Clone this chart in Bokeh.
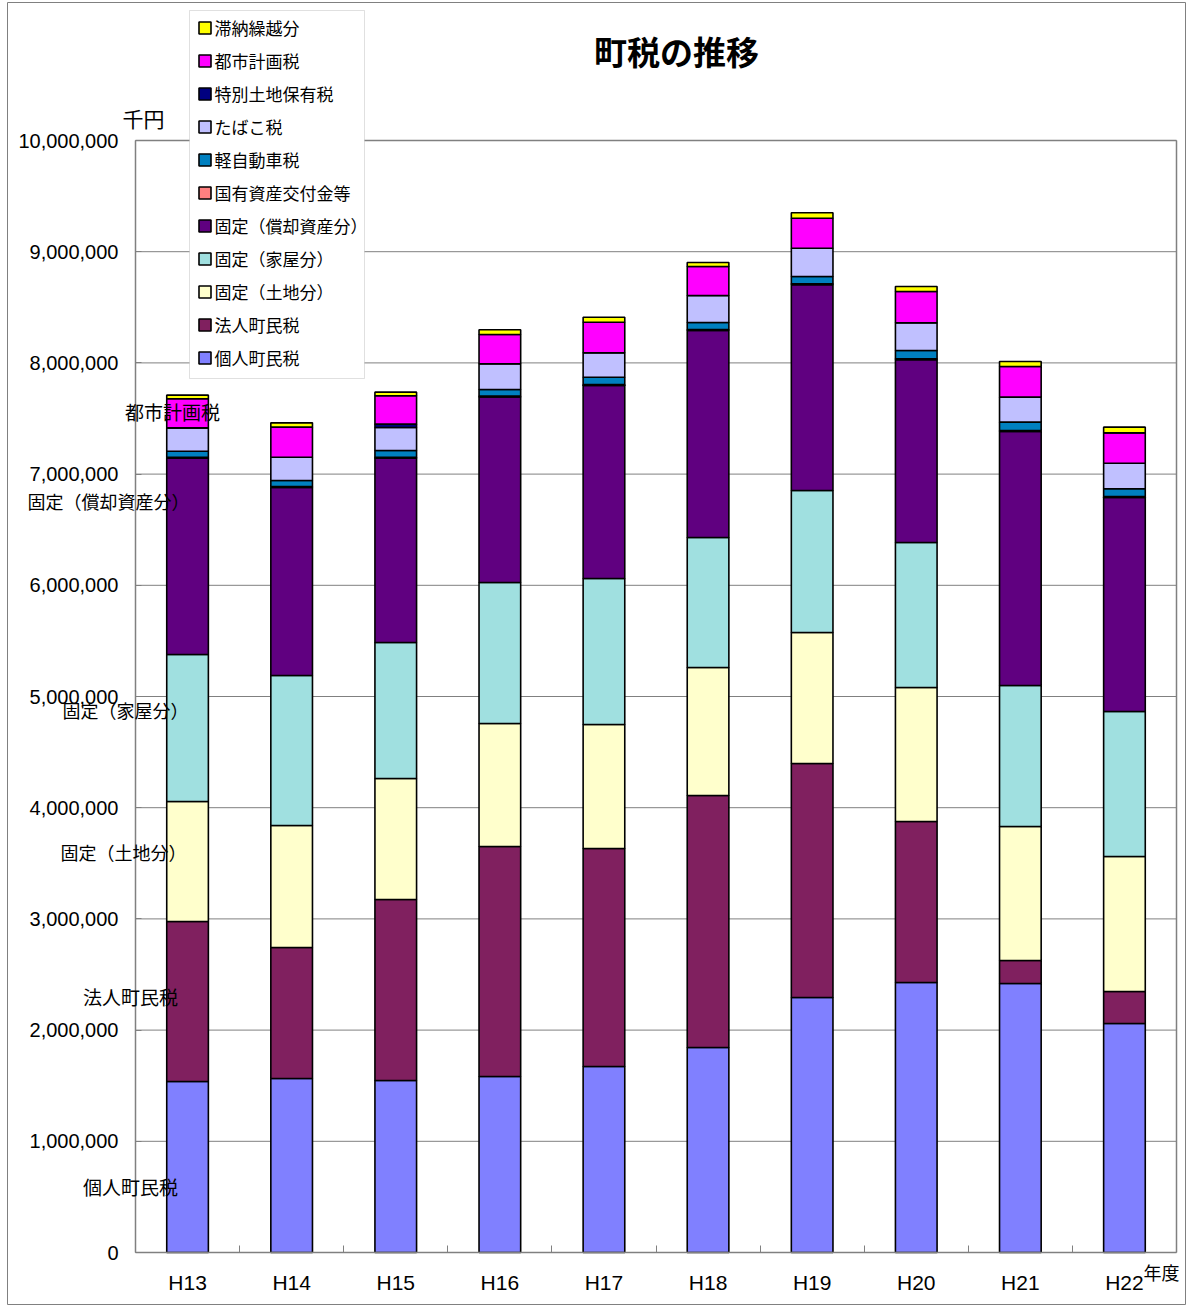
from bokeh.plotting import figure
from bokeh.models import (ColumnDataSource, Range1d, FixedTicker, NumeralTickFormatter,
                          Legend, LegendItem, Label, LinearAxis, BoxAnnotation)
from bokeh.embed import file_html
from bokeh.resources import INLINE

# 年度
years = ["H13", "H14", "H15", "H16", "H17", "H18", "H19", "H20", "H21", "H22"]

# 税目別の額（千円）
kojin   = [1538000, 1565000, 1547000, 1583000, 1673000, 1844000, 2293000, 2428000, 2419000, 2059000]
hojin   = [1439000, 1178000, 1627000, 2068000, 1960000, 2266000, 2104000, 1448000, 207000, 288000]
tochi   = [1079000, 1097000, 1089000, 1106000, 1115000, 1151000, 1179000, 1205000, 1205000, 1214000]
kaoku   = [1322000, 1349000, 1223000, 1268000, 1313000, 1169000, 1277000, 1304000, 1268000, 1304000]
shokyaku = [1766000, 1691000, 1658000, 1668000, 1737000, 1862000, 1850000, 1644000, 2285000, 1926000]
kokuyu  = [8000, 8000, 8000, 8000, 8000, 8000, 8000, 8000, 8000, 8000]
keijido = [54000, 54000, 60000, 60000, 65000, 63000, 66000, 75000, 75000, 69000]
tabako  = [210000, 210000, 207000, 231000, 220000, 243000, 254000, 249000, 225000, 230000]
tokubetsu = [0, 0, 30000, 0, 0, 0, 0, 0, 0, 0]
toshi   = [261000, 270000, 255000, 263000, 275000, 261000, 270000, 281000, 276000, 273000]
tainou  = [33000, 39000, 33000, 43000, 45000, 36000, 49000, 45000, 45000, 51000]

series_names = ["個人町民税", "法人町民税", "固定（土地分）", "固定（家屋分）", "固定（償却資産分）",
                "国有資産交付金等", "軽自動車税", "たばこ税", "特別土地保有税", "都市計画税", "滞納繰越分"]
series_values = [kojin, hojin, tochi, kaoku, shokyaku, kokuyu, keijido, tabako, tokubetsu, toshi, tainou]
colors = ["#8080FF", "#80205F", "#FFFFCC", "#A0E0E0", "#600080",
          "#FF8080", "#0080C0", "#C0C0FF", "#000080", "#FF00FF", "#FFFF00"]

y_max = 10000000
y_ticks = list(range(0, y_max + 1, 1000000))

JP = "Noto Sans CJK JP"
LAT = "Liberation Sans"
GRAY = "#808080"

W, H = 1186, 1305
# canvas box of the whole chart (outer border) and of the plotting area, in pixels
OL, OT, OR, OB = 7, 2, 1185, 1304
PL, PT, PR, PB = 135, 140, 1176, 1252

n = len(years)
x_per_px = n / (PR - PL)
y_per_px = y_max / (PB - PT)
x_range = Range1d(-(PL - OL) * x_per_px, n + (OR - PR) * x_per_px)
y_range = Range1d(-(OB - PB) * y_per_px, y_max + (PT - OT) * y_per_px)

centers = [i + 0.5 for i in range(n)]
keys = [f"s{i}" for i in range(len(series_names))]
data = {"x": centers}
for k, v in zip(keys, series_values):
    data[k] = v
source = ColumnDataSource(data)

p = figure(width=W, height=H, output_backend="svg", toolbar_location=None,
           x_range=x_range, y_range=y_range, x_axis_location=None, y_axis_location=None,
           min_border_left=OL, min_border_top=OT, min_border_right=W - OR, min_border_bottom=H - OB)
p.grid.visible = False
p.outline_line_color = GRAY
p.outline_line_width = 1
p.background_fill_color = "white"
p.border_fill_color = "white"

# horizontal gridlines across the plotting area
p.segment(x0=[0] * len(y_ticks), x1=[n] * len(y_ticks), y0=y_ticks, y1=y_ticks,
          line_color=GRAY, line_width=1)

renderers = p.vbar_stack(keys, x="x", width=0.4, source=source, fill_color=colors,
                         line_color="black", line_width=1.6)

# axes pinned to the plotting area's edges
xaxis = LinearAxis(fixed_location=0, bounds=(0, n),
                   ticker=FixedTicker(ticks=centers, minor_ticks=list(range(1, n))))
xaxis.major_label_overrides = {c: y for c, y in zip(centers, years)}
xaxis.major_tick_line_color = None
xaxis.minor_tick_in = 7
xaxis.minor_tick_out = 0
xaxis.minor_tick_line_color = GRAY
xaxis.major_label_text_font = LAT
xaxis.major_label_text_font_size = "21px"
xaxis.major_label_text_color = "black"
xaxis.major_label_standoff = 12
p.add_layout(xaxis, "below")

yaxis = LinearAxis(fixed_location=0, bounds=(0, y_max), ticker=FixedTicker(ticks=y_ticks),
                   formatter=NumeralTickFormatter(format="0,0"))
yaxis.major_tick_in = 6
yaxis.major_tick_out = 0
yaxis.minor_tick_line_color = None
yaxis.major_tick_line_color = GRAY
yaxis.major_label_text_font = LAT
yaxis.major_label_text_font_size = "20px"
yaxis.major_label_text_color = "black"
yaxis.major_label_standoff = 17
p.add_layout(yaxis, "left")

topaxis = LinearAxis(fixed_location=y_max, bounds=(0, n), ticker=FixedTicker(ticks=[]),
                     major_label_text_font_size="0px", major_tick_line_color=None,
                     minor_tick_line_color=None)
p.add_layout(topaxis, "above")
rightaxis = LinearAxis(fixed_location=n, bounds=(0, y_max), ticker=FixedTicker(ticks=[]),
                       major_label_text_font_size="0px", major_tick_line_color=None,
                       minor_tick_line_color=None)
p.add_layout(rightaxis, "right")

for ax in (xaxis, yaxis, topaxis, rightaxis):
    ax.axis_line_color = GRAY
    ax.axis_line_width = 1.5

# legend box (drawn first, underneath the entries)
BX0, BY0, BX1, BY1 = 189, 10, 364, 378
p.add_layout(BoxAnnotation(left=BX0 - OL, right=BX1 - OL, top=OB - BY0, bottom=OB - BY1,
                           left_units="screen", right_units="screen",
                           top_units="screen", bottom_units="screen",
                           fill_color="white", fill_alpha=1,
                           line_color="#999999", line_width=1, level="overlay"))

# legend entries, top entry first; location is the bottom-left corner from the frame's bottom-left
LG_L, LG_B = 196.5, 370
items = [LegendItem(label=nm, renderers=[r]) for nm, r in zip(series_names, renderers)][::-1]
legend = Legend(items=items, location=(LG_L - OL, OB - LG_B), orientation="vertical",
                label_text_font=JP, label_text_font_size="17px", label_text_color="black",
                glyph_width=15, glyph_height=15, label_height=24, label_standoff=3,
                spacing=8, padding=9, margin=0,
                border_line_color=None, background_fill_alpha=0)
p.add_layout(legend, "center")


def put(text, cx, cy, size, bold=False, font=JP):
    p.add_layout(Label(x=cx - OL, y=OB - cy, x_units="screen", y_units="screen", text=text,
                       text_font=font, text_font_size=size, text_align="center",
                       text_baseline="middle", text_color="black",
                       text_font_style="bold" if bold else "normal"))


put("町税の推移", 676, 50, "33px", bold=True)
put("千円", 143, 117, "21px")
put("年度", 1161, 1271, "18px")

side_labels = [("都市計画税", 172, 411, "19px"), ("固定（償却資産分）", 108, 500, "18px"),
               ("固定（家屋分）", 125, 709, "18px"), ("固定（土地分）", 123, 851, "18px"),
               ("法人町民税", 130, 996, "19px"), ("個人町民税", 130, 1186, "19px")]
for t, cx, cy, fs in side_labels:
    put(t, cx, cy, fs)

open("out.html", "w").write(file_html(p, INLINE))
